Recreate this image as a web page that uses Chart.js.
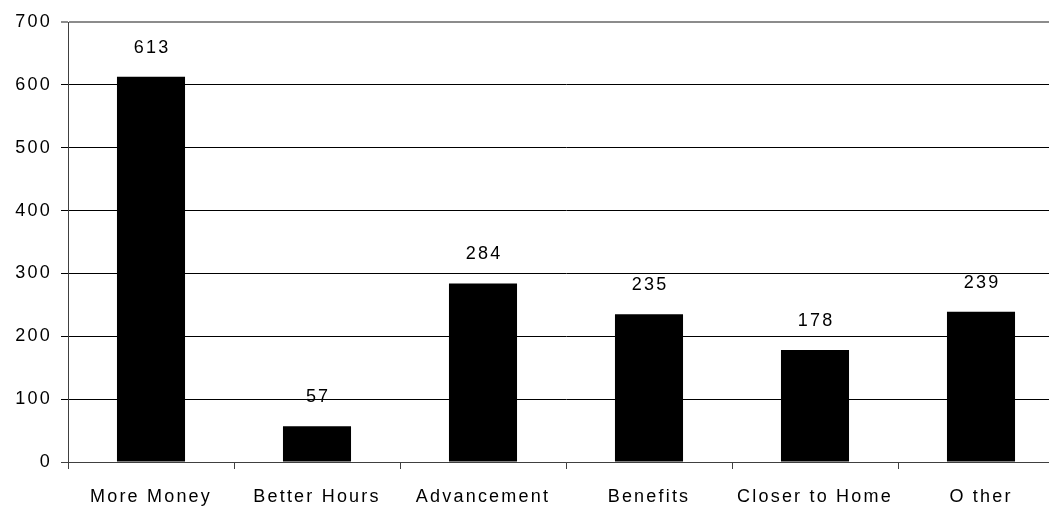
<!DOCTYPE html>
<html>
<head>
<meta charset="utf-8">
<script src="https://cdn.jsdelivr.net/npm/chart.js@4/dist/chart.umd.min.js"></script>
<style>
  html, body { margin: 0; padding: 0; background: #fff; overflow: hidden; }
  #wrap { width: 1049px; height: 508px; overflow: hidden; }
  canvas { display: block; }
</style>
</head>
<body>
<div id="wrap"><canvas id="c" width="1064" height="508"></canvas></div>
<script>
// Reasons given for changing jobs
const categories = ["More Money", "Better Hours", "Advancement", "Benefits", "Closer to Home", "O ther"];
const counts = [613, 57, 284, 235, 178, 239];
const yTicks = [0, 100, 200, 300, 400, 500, 600, 700];

const FONT = { family: "'Liberation Sans', Arial, sans-serif", size: 18 };
const SPACING = 2.2;

// Wide letter spacing for all canvas text
const spacingPlugin = {
  id: 'spacing',
  beforeInit(chart) { chart.ctx.letterSpacing = SPACING + 'px'; },
  beforeUpdate(chart) { chart.ctx.letterSpacing = SPACING + 'px'; },
  beforeDraw(chart) { chart.ctx.letterSpacing = SPACING + 'px'; }
};

// Value labels above each bar
const valueLabels = {
  id: 'valueLabels',
  afterDatasetsDraw(chart) {
    const ctx = chart.ctx;
    const meta = chart.getDatasetMeta(0);
    const data = chart.data.datasets[0].data;
    ctx.save();
    ctx.letterSpacing = SPACING + 'px';
    ctx.font = FONT.size + 'px ' + FONT.family;
    ctx.fillStyle = '#000';
    ctx.textAlign = 'center';
    ctx.textBaseline = 'middle';
    meta.data.forEach((bar, i) => {
      ctx.fillText(String(data[i]), bar.x + SPACING / 2, bar.y - 29);
    });
    ctx.restore();
  }
};

new Chart(document.getElementById('c'), {
  type: 'bar',
  data: {
    labels: categories,
    datasets: [{
      data: counts,
      backgroundColor: '#000',
      borderWidth: 0,
      barPercentage: 0.41,
      categoryPercentage: 1
    }]
  },
  options: {
    responsive: false,
    animation: false,
    events: [],
    layout: { padding: { left: 0, right: 0, top: 22, bottom: 0 } },
    plugins: { legend: { display: false }, tooltip: { enabled: false } },
    scales: {
      x: {
        offset: true,
        grid: { offset: true, drawOnChartArea: false, drawTicks: true, tickLength: 7, color: '#404040', lineWidth: 1 },
        border: { display: true, color: '#404040', width: 1 },
        ticks: { color: '#000', font: FONT, padding: 17, maxRotation: 0, autoSkip: false },
        afterFit(scale) { scale.height = 46; }
      },
      y: {
        min: 0,
        max: 700,
        afterBuildTicks(scale) { scale.ticks = yTicks.map(v => ({ value: v })); },
        grid: {
          drawTicks: true,
          tickLength: 7,
          color: ctx => ctx.tick && ctx.tick.value === 700 ? '#8c8c8c' : (ctx.tick && ctx.tick.value === 0 ? '#404040' : '#000'),
          lineWidth: ctx => ctx.tick && ctx.tick.value === 700 ? 2 : 1
        },
        border: { display: true, color: '#404040', width: 1 },
        ticks: { color: '#000', font: FONT, padding: 9 },
        afterFit(scale) { scale.width = 68; }
      }
    }
  },
  plugins: [spacingPlugin, valueLabels]
});
</script>
</body>
</html>
